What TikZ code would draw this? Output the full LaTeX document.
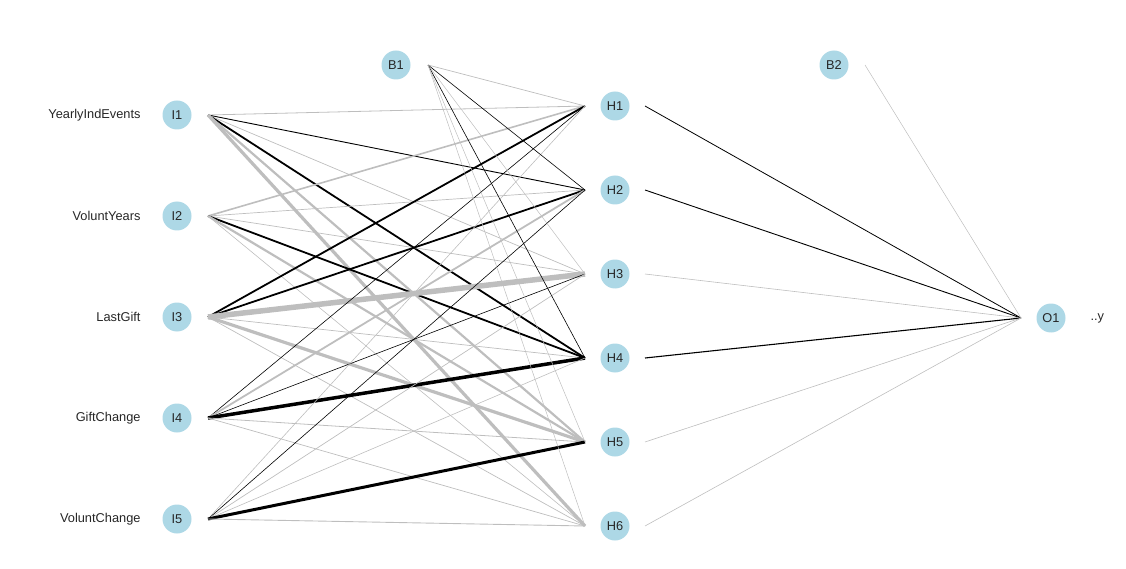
\documentclass[tikz,border=0pt]{standalone}
\usepackage{fontspec}
\setmainfont{Liberation Sans}
\usetikzlibrary{positioning}
\definecolor{nodeblue}{RGB}{173,216,230}
\definecolor{wgrey}{RGB}{190,190,190}
\begin{document}
\begin{tikzpicture}[x=1pt,y=-1pt,font=\fontsize{12.8}{15}\selectfont]
\tikzstyle{unit}=[circle,fill=nodeblue,minimum size=29pt,inner sep=0pt,outer sep=0pt,text=black!85]
\tikzstyle{varname}=[inner sep=0pt,outer sep=0pt,text=black!85]
\tikzstyle{wpos}=[draw=black]
\tikzstyle{wneg}=[draw=wgrey]
\useasboundingbox (0,0) rectangle (1126,569);
% layers
\foreach \n/\y in {1/115,2/216,3/317,4/418,5/519}
  \node[unit] (I\n) at (177,\y) {I\n};
\foreach \n/\y in {1/106,2/190,3/274,4/358,5/442,6/526}
  \node[unit] (H\n) at (615,\y) {H\n};
\node[unit] (B1) at (396,65) {B1};
\node[unit] (B2) at (834,65) {B2};
\node[unit] (O1) at (1051,318) {O1};
% variable names
\node[varname,left=22pt of I1] (n1) {YearlyIndEvents};
\node[varname,left=22pt of I2] (n2) {VoluntYears};
\node[varname,left=22pt of I3] (n3) {LastGift};
\node[varname,left=22pt of I4] (n4) {GiftChange};
\node[varname,left=22pt of I5] (n5) {VoluntChange};
\node[varname,right=25pt of O1] (ny) {..y};
% input to hidden weights
\foreach \i/\h/\s/\w in {1/1/wneg/0.8,1/2/wpos/0.9,1/3/wneg/0.7,1/4/wpos/1.8,1/5/wneg/2.2,1/6/wneg/3.2,
  2/1/wneg/1.6,2/2/wneg/0.7,2/3/wneg/0.7,2/4/wpos/1.8,2/5/wneg/2.2,2/6/wneg/0.6,
  3/1/wpos/1.8,3/2/wpos/1.8,3/3/wneg/5.5,3/4/wneg/0.7,3/5/wneg/3.2,3/6/wneg/0.7,
  4/1/wpos/0.6,4/2/wneg/1.8,4/3/wpos/0.6,4/4/wpos/3.5,4/5/wneg/0.8,4/6/wneg/0.7,
  5/1/wneg/0.6,5/2/wpos/0.6,5/3/wneg/0.7,5/4/wneg/0.6,5/5/wpos/3.0,5/6/wneg/0.9}
  \draw[\s,line width=\w pt] ([xshift=31pt]I\i.center) -- ([xshift=-30pt]H\h.center);
% bias to hidden
\foreach \h/\s/\w in {1/wneg/0.7,2/wpos/0.6,3/wneg/0.5,4/wpos/0.6,5/wneg/0.5,6/wneg/0.5}
  \draw[\s,line width=\w pt] ([xshift=32pt]B1.center) -- ([xshift=-30pt]H\h.center);
% hidden to output
\foreach \h/\s/\w in {1/wpos/0.8,2/wpos/0.9,3/wneg/0.6,4/wpos/1.1,5/wneg/0.6,6/wneg/0.6}
  \draw[\s,line width=\w pt] ([xshift=30pt]H\h.center) -- ([xshift=-30pt]O1.center);
\draw[wneg,line width=0.5pt] ([xshift=31pt]B2.center) -- ([xshift=-30pt]O1.center);
\end{tikzpicture}
\end{document}
